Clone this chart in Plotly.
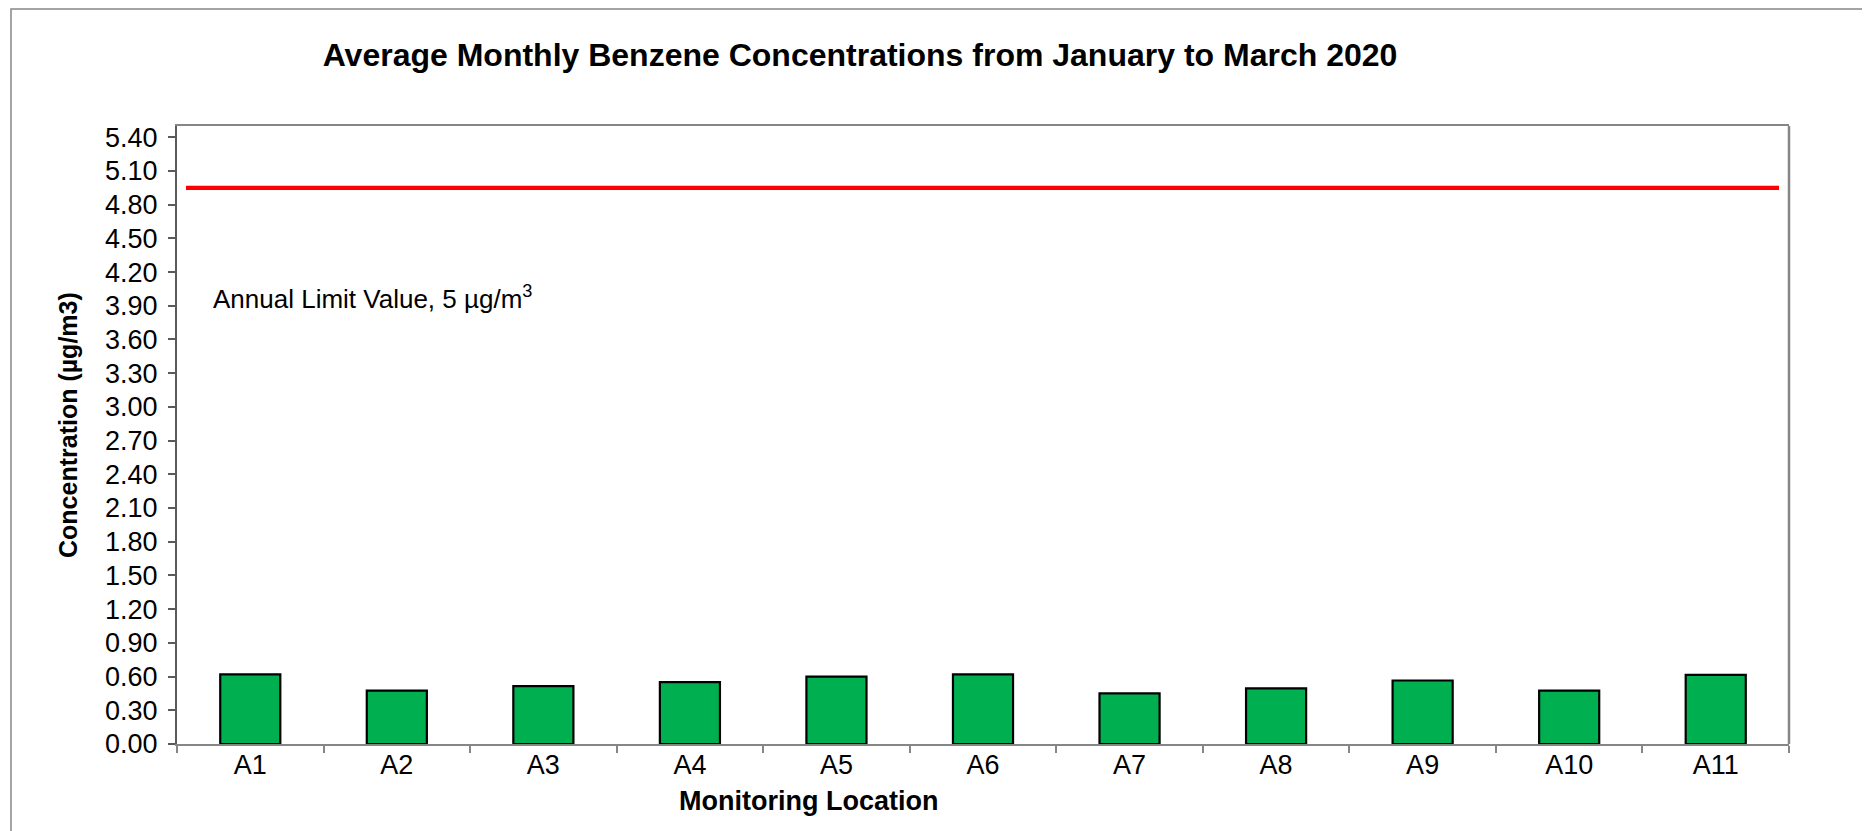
import plotly.graph_objects as go

# ---- data ----
locations = ["A1", "A2", "A3", "A4", "A5", "A6", "A7", "A8", "A9", "A10", "A11"]
benzene = [0.62, 0.475, 0.515, 0.55, 0.60, 0.62, 0.45, 0.495, 0.565, 0.475, 0.615]
limit_value = 4.95
y_ticks = [round(i * 0.3, 2) for i in range(19)]
y_tick_labels = [f"{v:.2f}" for v in y_ticks]

# ---- layout constants (screen pixels; page body has an 8px margin) ----
BODY = 8
W, H = 1870 - BODY, 831 - BODY
PLOT_L, PLOT_R, PLOT_T, PLOT_B = 177, 1789, 126, 744  # screen coords of plot area
ML = PLOT_L - BODY
MT = PLOT_T - BODY
MR = W - (PLOT_R - BODY)
MB = H - (PLOT_B - BODY)
PW, PH = W - ML - MR, H - MT - MB


def sx(p):
    return (p - BODY - ML) / PW


def sy(p):
    return (H - MB - (p - BODY)) / PH


FONT = "Liberation Sans, Arial, sans-serif"

fig = go.Figure()
fig.add_trace(go.Bar(
    x=locations, y=benzene,
    marker=dict(color="#00B050", line=dict(color="#000000", width=2.2)),
    showlegend=False,
))

fig.update_layout(
    width=W, height=H,
    margin=dict(l=ML, r=MR, t=MT, b=MB),
    paper_bgcolor="white", plot_bgcolor="white",
    bargap=0.59,
    font=dict(family=FONT, color="black", size=27),
    title=dict(
        text="<b>Average Monthly Benzene Concentrations from January to March 2020</b>",
        x=(860 - BODY) / W, xanchor="center", xref="container",
        y=1 - (55 - BODY) / H, yanchor="middle", yref="container",
        font=dict(family=FONT, size=32, color="black"),
    ),
    xaxis=dict(
        type="category", showline=True, linecolor="#868686", linewidth=2,
        mirror=True, ticks="outside", tickson="boundaries", ticklen=7,
        tickcolor="#868686", tickwidth=1.5, showgrid=False,
        tickfont=dict(family=FONT, size=27, color="black"),
        ticklabelstandoff=-4,
    ),
    yaxis=dict(
        range=[0, 5.5], tickvals=y_ticks, ticktext=y_tick_labels,
        showline=True, linecolor="#5a5a5a", linewidth=2, mirror=False,
        ticks="outside", ticklen=7, tickcolor="#5a5a5a", tickwidth=1.5,
        showgrid=False, zeroline=False,
        tickfont=dict(family=FONT, size=27, color="black"),
        ticklabelstandoff=5,
    ),
    shapes=[
        # limit line
        dict(type="line", xref="x domain", yref="y",
             x0=sx(186), x1=sx(1779), y0=limit_value, y1=limit_value,
             line=dict(color="#FF0000", width=4.3)),
        # right border of plot area
        dict(type="line", xref="paper", yref="paper", x0=1, x1=1, y0=0, y1=1,
             line=dict(color="#868686", width=2.5)),
        # outer chart border
        dict(type="rect", xref="paper", yref="paper",
             x0=sx(11), x1=sx(1867), y0=sy(845), y1=sy(BODY + 1),
             line=dict(color="#868686", width=1.5), fillcolor="rgba(0,0,0,0)",
             layer="below"),
    ],
    annotations=[
        dict(text=f"Annual Limit Value, {int(round(limit_value))} µg/m<sup>3</sup>",
             xref="paper", yref="paper", x=sx(211), y=sy(297),
             xanchor="left", yanchor="middle", showarrow=False,
             font=dict(family=FONT, size=26, color="black")),
        dict(text="<b>Monitoring Location</b>", xref="paper", yref="paper",
             x=sx(808), y=sy(801), xanchor="center", yanchor="middle",
             showarrow=False, font=dict(family=FONT, size=27, color="black")),
        dict(text="<b>Concentration (µg/m3)</b>", xref="paper", yref="paper",
             x=sx(68), y=sy(425), xanchor="center", yanchor="middle",
             textangle=-90, showarrow=False,
             font=dict(family=FONT, size=25, color="black")),
    ],
)

fig.write_html("out.html")
